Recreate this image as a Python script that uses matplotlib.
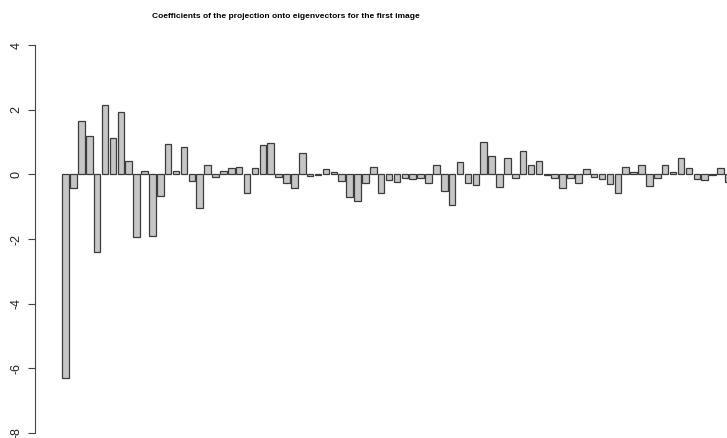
import numpy as np
import matplotlib
matplotlib.use("Agg")
import matplotlib.pyplot as plt

title = "Coefficients of the projection onto eigenvectors for the first image"

# projection coefficients (first 85 eigenvectors)
coefs = [-6.29, -0.42, 1.65, 1.18, -2.40, 2.14, 1.13, 1.94, 0.42, -1.95,
         0.09, -1.92, -0.67, 0.95, 0.10, 0.86, -0.21, -1.03, 0.28, -0.07,
         0.10, 0.20, 0.24, -0.57, 0.20, 0.90, 0.98, -0.07, -0.28, -0.43,
         0.65, -0.05, -0.01, 0.16, 0.08, -0.22, -0.70, -0.82, -0.26, 0.24,
         -0.57, -0.19, -0.23, -0.11, -0.13, -0.12, -0.26, 0.29, -0.52, -0.94,
         0.38, -0.28, -0.32, 1.00, 0.57, -0.38, 0.52, -0.10, 0.73, 0.30,
         0.40, -0.02, -0.11, -0.41, -0.10, -0.26, 0.18, -0.07, -0.13, -0.31,
         -0.57, 0.24, 0.07, 0.28, -0.36, -0.11, 0.29, 0.08, 0.49, 0.21,
         -0.13, -0.19, -0.02, 0.21, -0.25]
yticks = [4, 2, 0, -2, -4, -6, -8]

plt.rcParams['font.family'] = ['Liberation Sans', 'DejaVu Sans']

W, H = 727, 438
fig = plt.figure(figsize=(W / 100, H / 100), dpi=100)
# axes: left spine at x=35px, y from 45px (4) to 433px (-8), right edge cut at figure border
ax = fig.add_axes([35 / W, (H - 433) / H, (W - 35) / W, (433 - 45) / H])

idx = np.arange(len(coefs))
ax.bar(idx, coefs, width=0.83, color="#c6c6c6", edgecolor="#3c3c3c", linewidth=0.9)

ax.set_xlim(-3.875, 83.83)
ax.set_ylim(-8, 4)
ax.set_yticks(yticks)
ax.set_yticklabels([str(v) for v in yticks], rotation=90, va="center",
                   fontsize=9, color="#222222")
ax.tick_params(axis="y", length=5, width=0.8, color="#444444", pad=4)
ax.set_xticks([])
for s in ["top", "right", "bottom"]:
    ax.spines[s].set_visible(False)
ax.spines["left"].set_color("#444444")
ax.spines["left"].set_linewidth(0.8)

fig.text(286 / W, 1 - 17 / H, title, ha="center", va="center",
         fontsize=6.0, fontweight="bold", fontstretch="condensed")

fig.savefig("out.png", dpi=100)
